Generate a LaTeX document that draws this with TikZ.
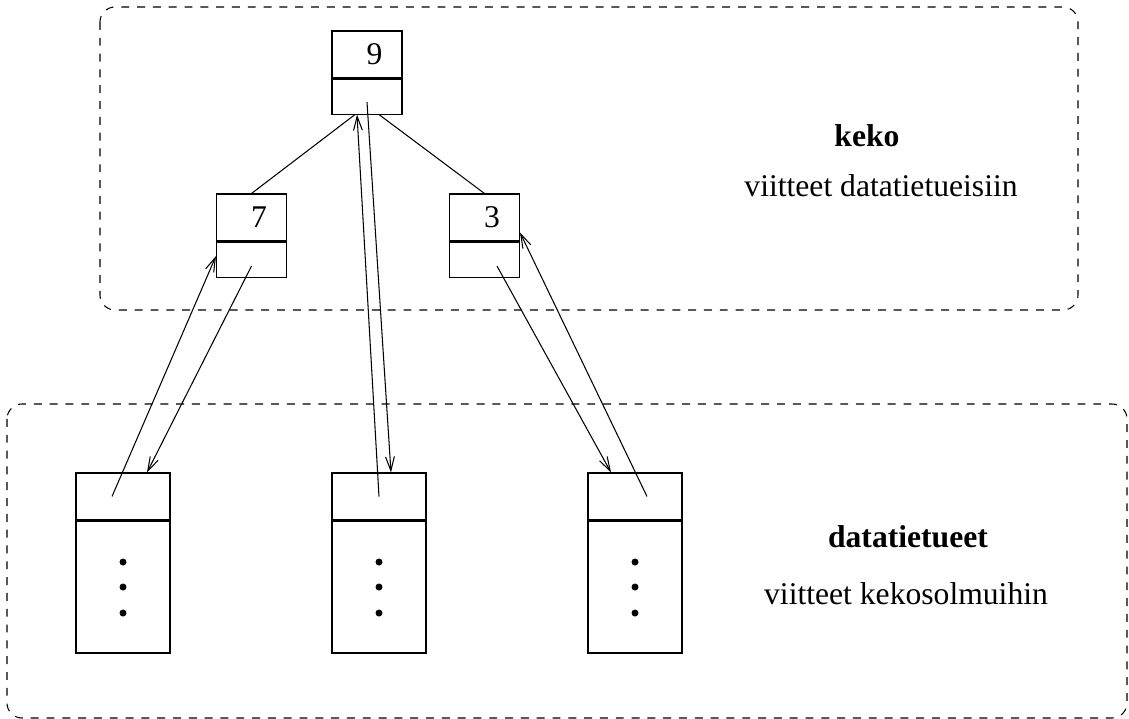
\documentclass[tikz,border=0pt]{standalone}
\usepackage{fontspec}
\setmainfont{Liberation Serif}
\usetikzlibrary{positioning,arrows.meta}

\begin{document}
\begin{tikzpicture}[x=0.02cm, y=-0.02cm,
    every node/.style={font=\fontsize{18}{22}\selectfont},
    keyhead/.style={draw, line width=0.6pt, minimum width=1.4cm, minimum height=0.94cm, inner sep=0pt},
    keyref/.style={draw, line width=0.6pt, minimum width=1.4cm, minimum height=0.7cm, inner sep=0pt},
    rechead/.style={draw, line width=0.6pt, minimum width=1.88cm, minimum height=0.94cm, inner sep=0pt},
    recbody/.style={draw, line width=0.6pt, minimum width=1.88cm, minimum height=2.64cm, inner sep=0pt},
    group/.style={line width=0.6pt, rounded corners=0.3cm, dash pattern=on 4.5pt off 4.5pt},
    edge/.style={line width=0.6pt},
    ptr/.style={line width=0.6pt, -{Straight Barb[length=8pt,width=5pt]}}]
  \useasboundingbox (0,0) rectangle (1129,719);

  % heap and record areas
  \draw[group] (100,7) rectangle (1078,310);
  \draw[group] (7,404) rectangle (1127,718);

  % heap nodes
  \node[keyhead] (key9) at (367,54.5) {\hspace*{0.3cm}9};
  \node[keyref, below=0pt of key9] (key9r) {};
  \node[keyhead] (key7) at (251.5,217.5) {\hspace*{0.3cm}7};
  \node[keyref, below=0pt of key7] (key7r) {};
  \node[keyhead] (key3) at (484.5,217.5) {\hspace*{0.3cm}3};
  \node[keyref, below=0pt of key3] (key3r) {};

  % data records
  \node[rechead] (rec1) at (123,496.5) {};
  \node[recbody, below=0pt of rec1] (body1) {};
  \node[rechead] (rec2) at (379,496.5) {};
  \node[recbody, below=0pt of rec2] (body2) {};
  \node[rechead] (rec3) at (635,496.5) {};
  \node[recbody, below=0pt of rec3] (body3) {};
  \foreach \i in {1,2,3}
    \foreach \d in {0.5,0,-0.52}
      \fill ([yshift=\d cm]body\i.center) circle (0.07cm);

  % tree edges
  \draw[edge] ([xshift=-0.24cm]key9r.south) -- (key7.north);
  \draw[edge] ([xshift=0.24cm]key9r.south) -- (key3.north);

  % references both ways
  \draw[ptr] ([xshift=-0.22cm]rec1.center) -- ([yshift=0.07cm]key7r.west);
  \draw[ptr] ([yshift=-0.13cm]key7r.center) -- ([xshift=0.48cm]rec1.north);
  \draw[ptr] (rec2.center) -- ([xshift=-0.2cm]key9r.south);
  \draw[ptr] ([yshift=-0.11cm]key9r.center) -- ([xshift=0.24cm]rec2.north);
  \draw[ptr] ([xshift=0.25cm,yshift=-0.13cm]key3r.center) -- ([xshift=-0.48cm]rec3.north);
  \draw[ptr] ([xshift=0.24cm]rec3.center) -- ([yshift=0.18cm]key3.south east);

  % texts
  \node (heaptitle) at (867,136) {\textbf{keko}};
  \node (heapnote) at (881,186) {viitteet datatietueisiin};
  \node (rectitle) at (908,537) {\textbf{datatietueet}};
  \node (recnote) at (906,594) {viitteet kekosolmuihin};
\end{tikzpicture}
\end{document}
